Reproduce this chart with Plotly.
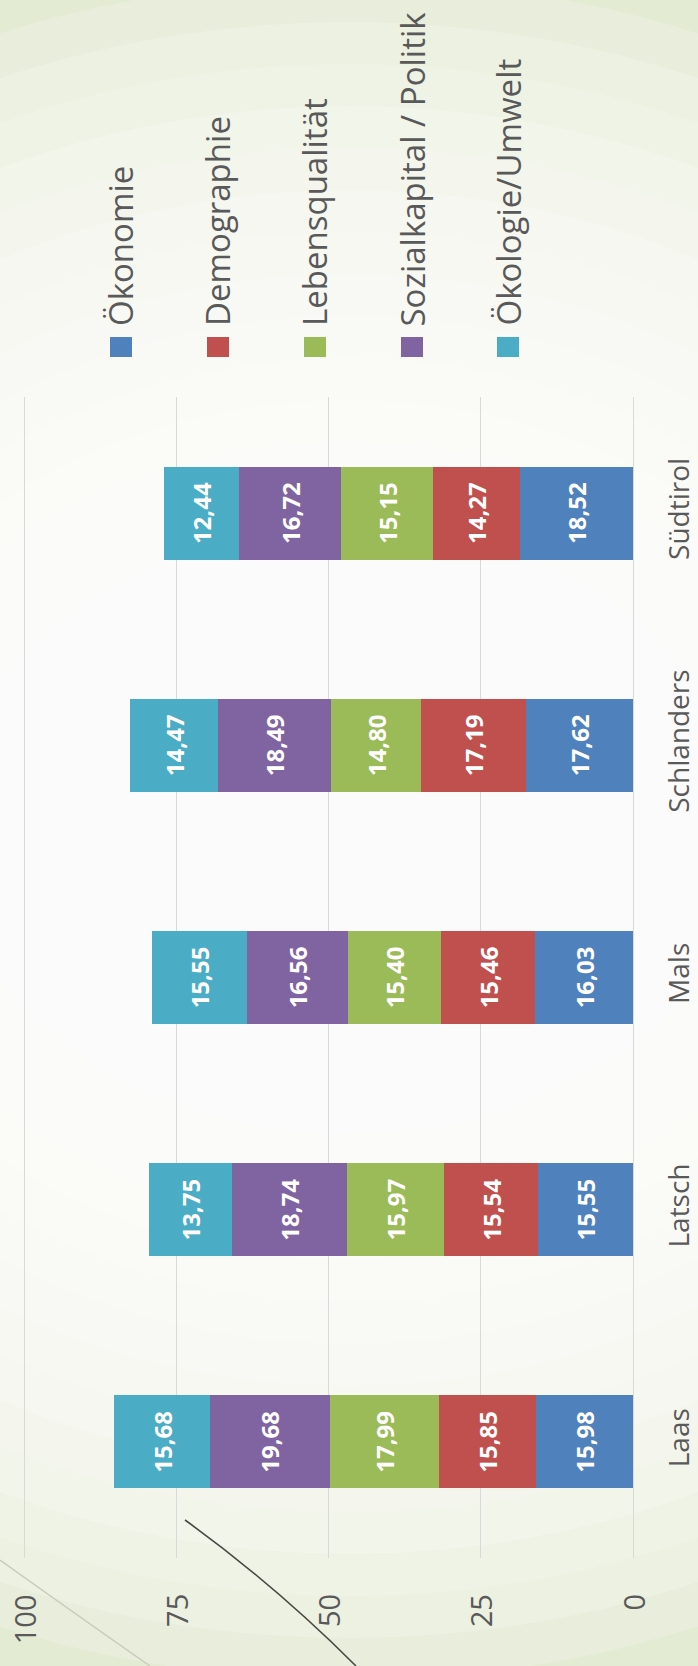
import plotly.graph_objects as go

categories = ["Laas", "Latsch", "Mals", "Schlanders", "Südtirol"]
series_names = ["Ökonomie", "Demographie", "Lebensqualität", "Sozialkapital / Politik", "Ökologie/Umwelt"]
oekonomie = [15.98, 15.55, 16.03, 17.62, 18.52]
demographie = [15.85, 15.54, 15.46, 17.19, 14.27]
lebensqualitaet = [17.99, 15.97, 15.40, 14.80, 15.15]
sozialkapital = [19.68, 18.74, 16.56, 18.49, 16.72]
oekologie = [15.68, 13.75, 15.55, 14.47, 12.44]
value_ticks = [0, 25, 50, 75, 100]

series_values = [oekonomie, demographie, lebensqualitaet, sozialkapital, oekologie]
colors = ["#4F81BD", "#C0504D", "#9BBB59", "#8064A2", "#4BACC6"]

W, H = 698, 1666
L, R, T, B = 23, 65, 397, 108
PW = W - L - R
PH = H - T - B

def px_x(x):
    return (x - L) / PW

def px_y(y):
    return (H - B - y) / PH

FONT = "Open Sans"
GREY = "#595959"

fig = go.Figure()
for name, vals, col in zip(series_names, series_values, colors):
    fig.add_trace(go.Bar(
        y=categories, x=vals, name=name, orientation="h",
        marker=dict(color=col, line=dict(width=0)),
        texttemplate="%{x:.2f}", textposition="inside",
        insidetextanchor="middle", textangle=-90,
        constraintext="none",
        textfont=dict(family=FONT, size=24, color="white", weight="bold"),
        showlegend=False, hoverinfo="skip",
    ))

shapes = []
# soft background glow (layered translucent ellipses)
cx, cy = 349, 830
for i in range(14):
    rx = 1000 - 46 * i
    ry = 850 - 42 * i
    shapes.append(dict(type="circle", xref="paper", yref="paper", layer="below",
                       x0=px_x(cx - rx), x1=px_x(cx + rx), y0=px_y(cy + ry), y1=px_y(cy - ry),
                       fillcolor="white", opacity=0.18, line=dict(width=0)))
# decorative curves
def path(p0, c, p1):
    return "M {} {} Q {} {} {} {}".format(px_x(p0[0]), px_y(p0[1]), px_x(c[0]), px_y(c[1]), px_x(p1[0]), px_y(p1[1]))
shapes.append(dict(type="path", xref="paper", yref="paper", layer="below",
                   path=path((0, 1560), (70, 1610), (150, 1666)),
                   line=dict(color="#C9CDBB", width=1.5)))
shapes.append(dict(type="path", xref="paper", yref="paper", layer="above",
                   path=path((185, 1520), (275, 1585), (356, 1666)),
                   line=dict(color="#4A4A44", width=1.6)))

annotations = []
# value-axis labels, top-aligned next to the plot (rotated)
for v in value_ticks:
    annotations.append(dict(text=str(v), xref="x", yref="paper", x=v, y=px_y(1592),
                            xanchor="center", yanchor="top", textangle=-90, showarrow=False,
                            font=dict(family=FONT, size=29, color=GREY)))

# legend (rotated)
leg_x = [121, 218, 315, 412, 508]
for name, col, lx in zip(series_names, colors, leg_x):
    shapes.append(dict(type="rect", xref="paper", yref="paper",
                       x0=px_x(lx - 11), x1=px_x(lx + 11), y0=px_y(357), y1=px_y(337),
                       fillcolor=col, line=dict(width=0)))
    annotations.append(dict(text=name, xref="paper", yref="paper",
                            x=px_x(lx), y=px_y(328), xanchor="center", yanchor="bottom",
                            textangle=-90, showarrow=False,
                            font=dict(family=FONT, size=33, color=GREY)))

fig.update_layout(
    width=W, height=H,
    margin=dict(l=L, r=R, t=T, b=B, pad=0, autoexpand=False),
    barmode="stack", bargap=0.60,
    separators=",.",
    paper_bgcolor="#E3EBD3", plot_bgcolor="rgba(0,0,0,0)",
    shapes=shapes, annotations=annotations,
    xaxis=dict(range=[100.2, 0], tickvals=value_ticks, showticklabels=False,
               showgrid=True, gridcolor="#D9D9D9", gridwidth=1,
               zeroline=True, zerolinecolor="#D9D9D9", zerolinewidth=1,
               showline=False, ticks="", automargin=False),
    yaxis=dict(side="right", showgrid=False, zeroline=False, showline=False, ticks="",
               tickangle=-90, ticklabelstandoff=27, automargin=False,
               tickfont=dict(family=FONT, size=28, color=GREY)),
    showlegend=False,
)

fig.write_html("out.html", config={"displayModeBar": False},
               post_script="document.body.style.margin='0';document.body.style.overflow='hidden';")
